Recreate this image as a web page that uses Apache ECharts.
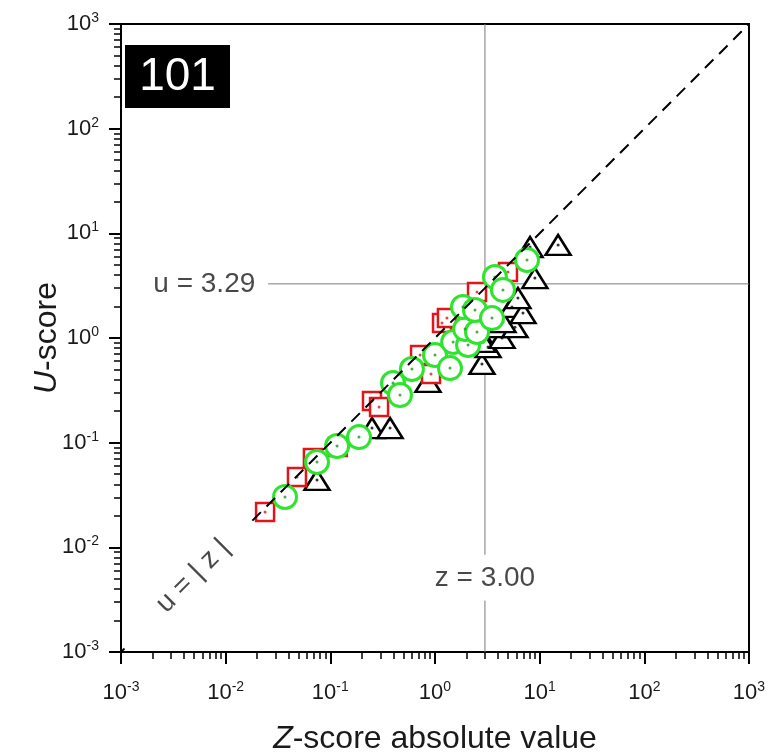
<!DOCTYPE html>
<html>
<head>
<meta charset="utf-8">
<script src="https://cdn.jsdelivr.net/npm/echarts@6/dist/echarts.min.js"></script>
<style>html,body{margin:0;padding:0;background:#fff;}#c{width:773px;height:755px;}</style>
</head>
<body>
<div id="c"></div>
<script>
// ---- data ----
const squareZ = [0.0238, 0.048, 0.0682, 0.118, 0.25, 0.292, 0.72, 0.916, 1.167, 1.30, 2.52, 4.98];
const squareU = [0.0218, 0.047, 0.0713, 0.091, 0.25, 0.219, 0.688, 0.453, 1.39, 1.55, 2.75, 4.27];
const circleZ = [0.0369, 0.0746, 0.116, 0.188, 0.397, 0.463, 0.602, 1.0, 1.39, 1.49, 2.07, 1.94, 2.52, 1.85, 2.41, 3.5, 3.74, 4.46, 7.57];
const circleU = [0.0303, 0.0653, 0.093, 0.113, 0.372, 0.285, 0.506, 0.688, 0.516, 0.916, 0.857, 1.22, 1.14, 1.98, 1.85, 1.55, 3.83, 2.88, 5.56];
const triZ = [0.0746, 0.25, 0.372, 0.857, 2.81, 3.21, 2.88, 4.37, 3.91, 5.81, 4.46, 5.44, 6.93, 6.2, 9.0, 8.09, 15.0];
const triU = [0.044, 0.138, 0.138, 0.38, 0.565, 0.82, 0.916, 1.0, 1.27, 1.27, 1.42, 1.98, 1.73, 2.41, 3.74, 7.4, 7.74];
const tickExponents = [-3, -2, -1, 0, 1, 2, 3];
const axisMin = 0.001, axisMax = 1000;
const zRef = 3.00, uRef = 3.29;
const panelLabel = '101';
// reference-line pieces (gaps left for the text labels)
const diagPieceA = [0.001, 0.00108];
const diagPieceB = [0.018, 1000];
const vertPieceA = [0.001, 0.0031];
const vertPieceB = [0.0085, 1000];
const horizPiece = [0.0255, 1000];
const textAnchors = {
  diag: [0.00488, 0.00532],
  uText: [0.00625, uRef],
  zText: [zRef, 0.00509]
};

const FONT = 'Liberation Sans, Arial, sans-serif';
const pairs = (a, b) => a.map((v, i) => [v, b[i]]);
const red = '#e3151b', green = '#2ee52e';

const tickLabel = v => {
  const e = Math.round(Math.log10(v));
  return tickExponents.includes(e) ? '10{s|' + e + '}' : '';
};
const labelRich = {
  s: {fontSize: 14, verticalAlign: 'top', padding: [0, 0, 12, 0], fontFamily: FONT, color: '#1a1a1a'}
};

function axisCommon() {
  return {
    type: 'log', logBase: 10, min: axisMin, max: axisMax,
    axisLine: {show: true, lineStyle: {color: '#000', width: 2}},
    axisTick: {show: true, inside: false, length: 12, lineStyle: {color: '#000', width: 2}},
    minorTick: {show: true, splitNumber: 9, length: 7, lineStyle: {color: '#000', width: 1.5}},
    splitLine: {show: false}, minorSplitLine: {show: false},
    nameLocation: 'middle',
    nameMoveOverlap: false,
    nameTextStyle: {fontFamily: FONT, fontSize: 32, color: '#1a1a1a', rich: {i: {fontStyle: 'italic', fontSize: 32, fontFamily: FONT, color: '#1a1a1a'}}}
  };
}

const x = axisCommon();
x.axisLabel = {formatter: tickLabel, margin: 28, fontSize: 22, fontFamily: FONT, color: '#1a1a1a', rich: labelRich};
x.name = '{i|Z}-score absolute value';
x.nameGap = 71;
const y = axisCommon();
y.axisLabel = {formatter: tickLabel, margin: 22, fontSize: 22, fontFamily: FONT, color: '#1a1a1a', rich: labelRich};
y.name = '{i|U}-score';
y.nameGap = 58;

const refLine = (data, type, color, z) => ({
  type: 'line', data, symbol: 'none', silent: true, z,
  lineStyle: {color, width: type === 'dashed' ? 2 : 1, type: type === 'dashed' ? [12, 8] : 'solid'},
  animation: false
});

const textSeries = (pt, text, rotate) => ({
  type: 'scatter', data: [pt], symbolSize: 0, silent: true, z: 20,
  label: {show: true, position: 'inside', formatter: text, rotate: rotate || 0,
    fontSize: 28, fontFamily: FONT, color: '#1a1a1a'}
});

const markerSeries = (data, symbol, size, color, width, z) => ({
  type: 'scatter', data, symbol, symbolSize: size, z,
  itemStyle: {color: '#fff', borderColor: color, borderWidth: width, opacity: 1}
});
const dotSeries = (data, color, z) => ({
  type: 'scatter', data, symbol: 'circle', symbolSize: 3, z,
  itemStyle: {color}
});

const chart = echarts.init(document.getElementById('c'), null, {renderer: 'canvas'});
chart.setOption({
  animation: false,
  backgroundColor: '#fff',
  grid: {left: 121, right: 24, top: 24, bottom: 103, containLabel: false, outerBoundsMode: 'none',
    show: true, borderColor: '#000', borderWidth: 2, backgroundColor: 'transparent'},
  xAxis: x,
  yAxis: y,
  graphic: [
    {type: 'group', left: 125, top: 45, children: [
      {type: 'rect', shape: {x: 0, y: 0, width: 105, height: 63}, style: {fill: '#000'}},
      {type: 'text', x: 52.5, y: 32, style: {text: panelLabel, fill: '#fff', fontSize: 46, fontFamily: FONT, align: 'center', verticalAlign: 'middle'}}
    ]}
  ],
  series: [
    markerSeries(pairs(triZ, triU), 'triangle', [25, 20], '#000', 2.5, 2),
    dotSeries(pairs(triZ, triU), '#000', 3),
    markerSeries(pairs(squareZ, squareU), 'rect', 18, red, 2.5, 4),
    dotSeries(pairs(squareZ, squareU), red, 5),
    markerSeries(pairs(circleZ, circleU), 'circle', 23, green, 3, 6),
    dotSeries(pairs(circleZ, circleU), '#1a9a1a', 7),
    refLine([[diagPieceA[0], diagPieceA[0]], [diagPieceA[1], diagPieceA[1]]], 'dashed', '#000', 10),
    refLine([[diagPieceB[0], diagPieceB[0]], [diagPieceB[1], diagPieceB[1]]], 'dashed', '#000', 10),
    refLine([[zRef, vertPieceA[0]], [zRef, vertPieceA[1]]], 'solid', '#7a7a7a', 1),
    refLine([[zRef, vertPieceB[0]], [zRef, vertPieceB[1]]], 'solid', '#7a7a7a', 1),
    refLine([[horizPiece[0], uRef], [horizPiece[1], uRef]], 'solid', '#7a7a7a', 1),
    textSeries(textAnchors.diag, 'u = | z |', 45),
    textSeries(textAnchors.uText, 'u = ' + uRef.toFixed(2)),
    textSeries(textAnchors.zText, 'z = ' + zRef.toFixed(2))
  ]
});
</script>
</body>
</html>
